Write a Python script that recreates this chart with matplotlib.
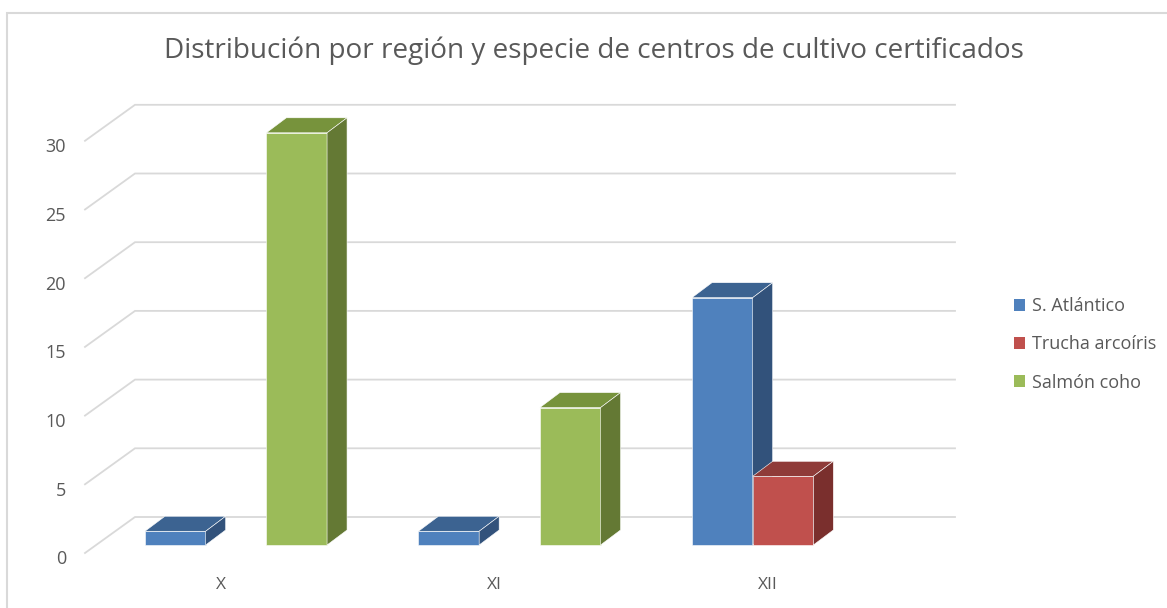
import matplotlib
matplotlib.use("Agg")
import matplotlib.pyplot as plt
from matplotlib.patches import Polygon, Patch

# ---- data ----
categories = ["X", "XI", "XII"]
series_names = ["S. Atlántico", "Trucha arcoíris", "Salmón coho"]
atlantico = [1, 1, 18]
trucha = [0, 0, 5]
coho = [30, 10, 0]
y_ticks = [0, 5, 10, 15, 20, 25, 30]
title = "Distribución por región y especie de centros de cultivo certificados"

series_values = [atlantico, trucha, coho]
front_cols = ["#4F81BD", "#C0504D", "#9BBB59"]
top_cols = ["#3C6391", "#8F3B39", "#77933C"]
side_cols = ["#32527B", "#7A2F2D", "#647934"]

W, H = 1167, 608
fig = plt.figure(figsize=(W / 100, H / 100), dpi=100)
ax = fig.add_axes([0, 0, 1, 1])

# pixel layout -> data scale (category units in x, value units in y)
PX_CAT = 273.5       # pixels per category
PX_VAL = 13.74       # pixels per unit value
X0 = 236.0           # pixel x of first category centre
Y0 = 545.0           # pixel y (from top) of value 0 on bar front
ax.set_xlim(-X0 / PX_CAT, (W - X0) / PX_CAT)
ax.set_ylim(-(H - Y0) / PX_VAL, Y0 / PX_VAL)
ax.axis("off")

def px_x(p):  # pixel offset -> data x offset
    return p / PX_CAT

def px_y(p):
    return p / PX_VAL

# chart border
ax.add_patch(plt.Rectangle((px_x(7 - X0), -px_y(H + 20 - Y0)), px_x(W + 20), px_y(H + 20 - 13),
                           fill=False, edgecolor="#D9D9D9", linewidth=1.5, zorder=0))

# gridlines: floor diagonal + back wall
gx_front, gx_back, gx_right = px_x(85 - X0), px_x(135 - X0), px_x(955 - X0)
gy_front, gy_back = -px_y(8), px_y(28)
for v in y_ticks:
    ax.plot([gx_front, gx_back, gx_right], [v + gy_front, v + gy_back, v + gy_back],
            color="#D9D9D9", linewidth=1.3, zorder=1, solid_joinstyle="miter")
    ax.text(px_x(66 - X0), v - px_y(19.5), str(v), ha="right", va="baseline",
            fontsize=13, color="#595959", family="Open Sans")

# bars
bw = px_x(60.7)
ddx, ddy = px_x(20), px_y(15)
n = len(series_values)
for i, cat in enumerate(categories):
    for j, vals in enumerate(series_values):
        v = vals[i]
        if v == 0:
            continue
        left = i - n * bw / 2 + j * bw
        ax.bar(left, v, width=bw, align="edge", color=front_cols[j],
               edgecolor="#FFFFFF", linewidth=0.4, zorder=2)
        top = Polygon([(left, v), (left + ddx, v + ddy), (left + bw + ddx, v + ddy), (left + bw, v)],
                      closed=True, facecolor=top_cols[j], edgecolor="#FFFFFF", linewidth=0.4, zorder=2)
        side = Polygon([(left + bw, 0), (left + bw, v), (left + bw + ddx, v + ddy), (left + bw + ddx, ddy)],
                       closed=True, facecolor=side_cols[j], edgecolor="#FFFFFF", linewidth=0.4, zorder=2)
        ax.add_patch(top)
        ax.add_patch(side)
    ax.text(i - px_x(15.5), -px_y(589 - Y0), cat, ha="center", va="baseline",
            fontsize=12.5, color="#595959", family="Open Sans")

# title
fig.text(594 / W, 1 - 58 / H, title, ha="center", va="baseline",
         fontsize=20.1, color="#595959", family="Open Sans")

# legend
handles = [Patch(facecolor=c, edgecolor="none") for c in front_cols]
leg = fig.legend(handles, series_names, loc="upper left", bbox_to_anchor=(1007 / W, 1 - 290 / H),
                 frameon=False, fontsize=13, handlelength=0.62, handleheight=0.62,
                 handletextpad=0.35, labelspacing=1.12, borderaxespad=0)
for t in leg.get_texts():
    t.set_color("#595959")
    t.set_family("Open Sans")

fig.savefig("out.png", dpi=100)
